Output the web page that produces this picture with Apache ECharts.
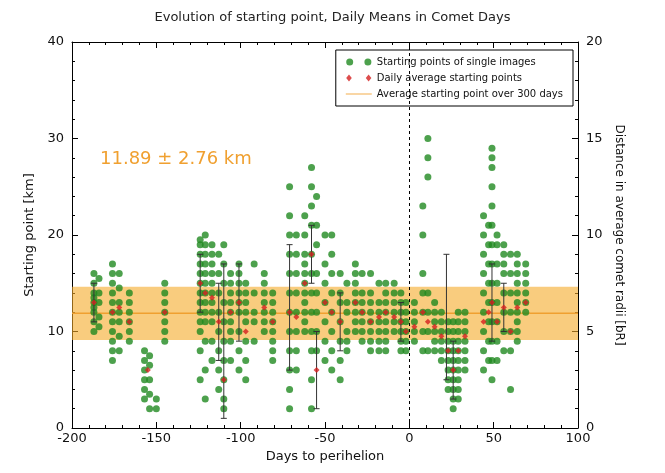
<!DOCTYPE html>
<html><head><meta charset="utf-8">
<script src="https://cdn.jsdelivr.net/npm/echarts@6/dist/echarts.min.js"></script>
<style>body{margin:0}#c{width:665px;height:473px}</style></head>
<body><div id="c"></div>
<script>
// single image starting points: [day, values...]
const singleCols = [
[-187,[10,11,12,12.5,13,13.5,14,15,16]],[-184,[10.5,11.5,13,14,15.5]],
[-176,[7,8,9,10,11,12,13,14,15,16,17]],[-172,[8,9.5,11,12,13,14.5,16]],
[-166,[9,10,11,12,13,14]],[-157,[3,4,5,6,7,8]],[-154,[2,3.5,5,6.5,7.5]],[-150,[2,3]],
[-145,[9,10,11,12,13,14,15]],
[-124,[5,8,10,11,12,13,14,15,16,17,18,19,19.5]],[-121,[3,6,9,11,12,13,14,15,16,17,18,19,20]],[-117,[7,9,11,12,13,14,15,16,17,18,19]],
[-113,[4,6,8,10,12,14,16,18]],[-110,[2,3,5,7,9,11,13,15,17,19]],[-106,[7,9,10,11,12,13,14,15,16]],
[-101,[6,8,10,12,13,14,15,16,17]],[-97,[5,7,9,11,12,13,14,15]],[-92,[9,11,12,14,17]],
[-86,[10,11,12,13,14,15,16]],[-81,[7,8,9,10,11,12,13,14]],
[-71,[2,4,6,8,10,12,14,16,18,20,22,25]],[-67,[6,8,10,12,14,16,18,20]],
[-62,[10,11,12,13,14,15,16,17,18,20,22]],[-58,[2,5,8,10,12,14,16,18,21,23,25,27]],[-55,[8,10,12,14,16,19,21,24]],
[-50,[7,9,11,13,15,17,20]],[-46,[6,8,10,12,14,16,18,20]],[-41,[5,7,9,11,13,14,16]],[-37,[8,9,10,12,13,15]],
[-32,[10,11,12,13,14,15,16,17]],[-28,[9,10,11,12,13,14,16]],[-23,[8,9,10,11,12,13,14,16]],
[-18,[8,9,10,11,12,13,15]],[-14,[8,9,10,11,12,13,14,15]],[-9,[10,11,12,13,14,15]],[-5,[8,9,10,11,12,13,14]],
[-2,[8,9,10,11,12,13]],[3,[9,10,11,12,13]],[8,[8,10,12,14,16,20,23]],[11,[8,10,12,14,26,28,30]],
[15,[8,9,10,11,12,13]],[19,[7,8,9,10,11,12]],[23,[4,5,6,7,8,9,10,11]],[26,[2,3,4,5,6,7,8,9,10,11]],
[29,[3,4,5,6,7,8,9,10,11,12]],[33,[6,7,8,9,10,11,12]],
[44,[6,8,10,12,14,16,18,20,22]],[47,[7,9,11,13,15,17,19,21]],[49,[5,7,9,11,13,15,17,19,21,23,25,27,28,29]],
[52,[7,9,11,13,15,17,19,20]],[56,[8,10,12,14,16,17,18,19]],[60,[4,8,10,12,14,16,18]],
[64,[9,10,11,12,13,14,15,16,17,18]],[69,[12,13,14,15,16,17]]
];
// daily averages [day, km]
const dailyMeans = [[-187,13],[-176,12],[-172,12.5],[-166,11],[-155,6],[-145,12],[-124,15],[-121,14],[-117,13.5],
[-113,11],[-110,5],[-106,12],[-101,13],[-97,10],[-86,12.5],[-81,11],[-71,12],[-67,11.5],[-62,15],[-58,18],[-55,6],
[-50,13],[-46,12],[-41,11],[-32,13],[-28,12],[-23,11],[-18,11.5],[-14,12],[-9,11.5],[-5,11],[-2,10],[3,10.5],[8,12],
[11,11],[15,10.5],[19,9.5],[23,8],[26,6],[29,8],[33,9.5],[44,11],[47,12],[49,13],[52,11],[56,12.5],[60,10],[64,12.5],[69,13]];
// error bars [day, low, high]
const errBars = [[-187,11,15],[-124,12,18],[-113,7,15],[-110,1,17],[-101,9,17],[-71,6,19],[-58,15,21],[-55,2,10],[-41,8,14],
[-5,9,13],[22,5,18],[26,3,9],[49,9,17],[56,10,15]];
const meanKm = 11.89, sdKm = 2.76;

const pts = [];
singleCols.forEach(([d, vs]) => vs.forEach(v => pts.push([d, v])));
const chart = echarts.init(document.getElementById('c'));
const ff = 'DejaVu Sans';
const tickAx = {axisLine:{show:true,onZero:false,lineStyle:{color:'#000'}},axisTick:{inside:true,length:6,lineStyle:{color:'#000'}},
  minorTick:{show:true,splitNumber:5,length:3,lineStyle:{color:'#000'}},splitLine:{show:false}};
chart.setOption({
  animation:false,
  title:{text:'Evolution of starting point, Daily Means in Comet Days',left:'center',top:6,textStyle:{fontFamily:ff,fontSize:13,fontWeight:'normal',color:'#222'}},
  grid:{left:72,right:87,top:42,bottom:45},
  xAxis:[{type:'value',min:-200,max:100,interval:50,name:'Days to perihelion',nameLocation:'middle',nameGap:22,
    nameTextStyle:{fontFamily:ff,fontSize:13,color:'#111'},...tickAx,
    axisLabel:{fontFamily:ff,fontSize:13,color:'#111',margin:4}},
   {type:'value',min:-200,max:100,interval:50,position:'top',...tickAx,axisLabel:{show:false}}],
  yAxis:[{type:'value',min:0,max:40,interval:10,name:'Starting point [km]',nameLocation:'middle',nameGap:28,
    nameTextStyle:{fontFamily:ff,fontSize:13,color:'#111'},...tickAx,
    axisLabel:{fontFamily:ff,fontSize:13,color:'#111'}},
   {type:'value',min:0,max:20,interval:5,position:'right',name:'Distance in average comet radii [bR]',nameLocation:'middle',nameGap:30,nameRotate:-90,
    nameTextStyle:{fontFamily:ff,fontSize:12,color:'#111'},...tickAx,
    axisLabel:{fontFamily:ff,fontSize:13,color:'#111'}}],
  legend:{right:92,top:50,orient:'vertical',itemGap:6,itemWidth:26,itemHeight:7,backgroundColor:'#fff',borderColor:'#000',borderWidth:1,padding:[7,10],
    textStyle:{fontFamily:ff,fontSize:10,color:'#111'},
    data:[{name:'Starting points of single images',icon:'path://M0,5A5,5,0,1,1,10,5A5,5,0,1,1,0,5ZM26,5A5,5,0,1,1,36,5A5,5,0,1,1,26,5Z'},
      {name:'Daily average starting points',icon:'path://M0,5L4,0L8,5L4,10ZM28,5L32,0L36,5L32,10Z'},
      {name:'Average starting point over 300 days',icon:'path://M0,0L30,0L30,1L0,1Z'}]},
  series:[
    {name:'Average starting point over 300 days',type:'line',data:[[-200,meanKm],[100,meanKm]],symbol:'none',
      lineStyle:{color:'#f0a030',width:1.5},itemStyle:{color:'#f0a030'},z:1,
      markArea:{silent:true,itemStyle:{color:'rgba(245,170,40,0.6)'},data:[[{yAxis:meanKm-sdKm},{yAxis:meanKm+sdKm}]]},
      markLine:{silent:true,symbol:'none',label:{show:false},lineStyle:{color:'#000',type:[3,3],width:1},data:[{xAxis:0}]}},
    {name:'Starting points of single images',type:'scatter',data:pts,symbolSize:7,itemStyle:{color:'#208a20'},z:3},
    {name:'err',type:'custom',z:4,data:errBars,renderItem:(p,api)=>{
      const a=api.coord([api.value(0),api.value(1)]),b=api.coord([api.value(0),api.value(2)]);
      const s={stroke:'#333',lineWidth:1};
      return {type:'group',children:[
        {type:'line',shape:{x1:a[0],y1:a[1],x2:b[0],y2:b[1]},style:s},
        {type:'line',shape:{x1:a[0]-3,y1:a[1],x2:a[0]+3,y2:a[1]},style:s},
        {type:'line',shape:{x1:b[0]-3,y1:b[1],x2:b[0]+3,y2:b[1]},style:s}]};}},
    {name:'Daily average starting points',type:'scatter',data:dailyMeans,symbol:'diamond',symbolSize:6,itemStyle:{color:'#d42020'},z:5}
  ],
  graphic:[{type:'text',left:100,top:150,style:{text:'11.89 ± 2.76 km',fontFamily:ff,fontSize:18,fill:'#f0a030'}}]
});
</script></body></html>
